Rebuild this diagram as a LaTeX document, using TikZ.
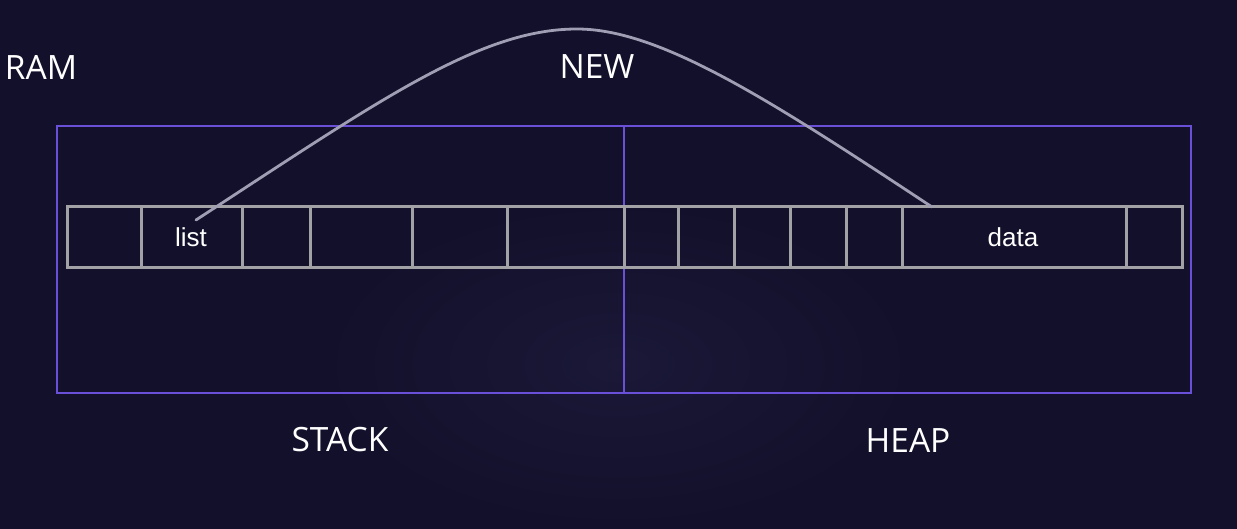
\documentclass[tikz,border=0pt]{standalone}
\usepackage{fontspec}
\setmainfont{Open Sans}
\newfontfamily\cellfont{Liberation Sans}
\definecolor{bgc}{HTML}{12102A}
\definecolor{bgl}{HTML}{1B1838}
\definecolor{ramc}{HTML}{6A4FD8}
\definecolor{cellc}{HTML}{A2A2A6}
\definecolor{curvec}{HTML}{A09EB4}
\tikzset{
  lbl/.style={text=white, font=\fontsize{33.5}{38}\selectfont, inner sep=0pt},
  celltxt/.style={text=white, font=\cellfont\fontsize{26}{30}\selectfont, inner sep=0pt},
  ramline/.style={draw=ramc, line width=2.8pt},
  cellline/.style={draw=cellc, line width=3pt},
  curveline/.style={draw=curvec, line width=2.8pt, line cap=round},
}
\begin{document}
\begin{tikzpicture}[x=1pt,y=-1pt]
\useasboundingbox (0,0) rectangle (1237,529);
\fill[bgc] (0,0) rectangle (1237,529);
\shade[inner color=bgl, outer color=bgc] (318,200) rectangle (918,529);
% RAM box
\draw[ramline] (57,126) rectangle (1191,393);
\draw[ramline] (624,126) -- (624,393);
% cells
\draw[cellline] (67,207) rectangle (1182,268);
\foreach \x in {141,242,310,412,507,624,678,734,790,846,902,1126}
  \draw[cellline] (\x,207) -- (\x,268);
% labels
\node[lbl] (ram) at (41,67) {RAM};
\node[lbl] (new) at (597,67) {NEW};
\node[lbl] (stack) at (340,440) {STACK};
\node[lbl] (heap) at (908,440) {HEAP};
\node[celltxt] (list) at (191,237) {list};
\node[celltxt] (data) at (1013,237) {data};
\coordinate (from) at (196,220);
\coordinate (to) at (932,207);
\coordinate (peak) at (577,29);
\draw[curveline] (from) .. controls (380,100) and (480,29) .. (peak)
  .. controls (660,29) and (770,100) .. (to);
\end{tikzpicture}
\end{document}
